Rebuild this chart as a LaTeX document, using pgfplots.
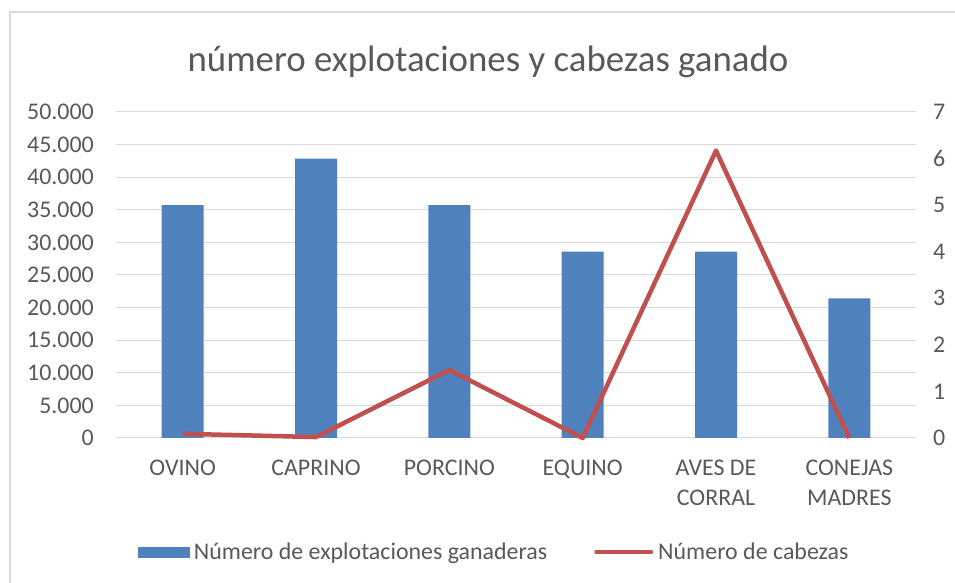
\documentclass[border=0pt]{standalone}
\usepackage{pgfplots}
\pgfplotsset{compat=1.18}
\usepackage{fontspec}
\setmainfont{Carlito}
\definecolor{txt}{HTML}{595959}
\definecolor{gridc}{HTML}{D9D9D9}
\definecolor{barblue}{HTML}{4F81BD}
\definecolor{linered}{HTML}{C0504D}
\begin{document}
\begin{tikzpicture}[x=1bp,y=1bp]
\useasboundingbox (0,0) rectangle (955,583);
\fill[white] (0,0) rectangle (955,583);
\draw[gridc, line width=2bp] (10,0) -- (10,571) -- (956,571);
\node[text=txt, font=\fontsize{37}{44}\selectfont] at (488,521) {número explotaciones y cabezas ganado};

\begin{axis}[
  at={(116bp,145bp)}, anchor=south west,
  scale only axis, width=800bp, height=326bp,
  xmin=-0.5, xmax=5.5, ymin=0, ymax=50000,
  ytick={0,5000,...,50000},
  ymajorgrids, grid style={gridc, line width=1bp},
  xtick={0,...,5},
  xticklabels={OVINO, CAPRINO, PORCINO, EQUINO, {AVES DE\\CORRAL}, {CONEJAS\\MADRES}},
  xticklabel style={align=center, anchor=north, inner sep=0pt, yshift=-22bp, font=\fontsize{24}{30}\selectfont, text=txt},
  yticklabel style={anchor=east, inner sep=0pt, xshift=-22bp, font=\fontsize{24}{29}\selectfont, text=txt},
  scaled y ticks=false,
  /pgf/number format/1000 sep={.},
  /pgf/number format/assume math mode=true,
  axis line style={draw=none}, major tick length=0pt,
  ybar, bar width=42bp,
]
\addplot[fill=barblue, draw=none] coordinates {(0,35714) (1,42857) (2,35714) (3,28571) (4,28571) (5,21429)};
\end{axis}

\begin{axis}[
  at={(116bp,145bp)}, anchor=south west,
  scale only axis, width=800bp, height=326bp,
  xmin=-0.5, xmax=5.5, ymin=0, ymax=7,
  ytick={0,...,7},
  axis y line*=right, hide x axis,
  axis line style={draw=none}, major tick length=0pt,
  yticklabel style={anchor=west, inner sep=0pt, xshift=17bp, font=\fontsize{24}{29}\selectfont, text=txt},
  /pgf/number format/assume math mode=true,
  clip=false,
  legend style={at={(0.4725,-0.35)}, anchor=center, draw=none, fill=none,
    font=\fontsize{24}{29}\selectfont, text=txt,
    /tikz/every odd column/.append style={column sep=3bp},
    /tikz/every even column/.append style={column sep=45bp}},
  legend columns=2, legend cell align=left,
]
\addlegendimage{legend image code/.code={\fill[barblue] (0bp,-5bp) rectangle (51bp,5bp);}}
\addlegendentry{Número de explotaciones ganaderas}
\addplot[linered, line width=4.5bp, line join=round, mark=none,
  legend image code/.code={\draw[linered, line width=4bp, line cap=round] (0bp,0bp) -- (55bp,0bp);}]
  coordinates {(0,0.09) (1,0.02) (2,1.46) (3,0.0) (4,6.17) (5,0.0)};
\addlegendentry{Número de cabezas}
\end{axis}
\end{tikzpicture}
\end{document}
